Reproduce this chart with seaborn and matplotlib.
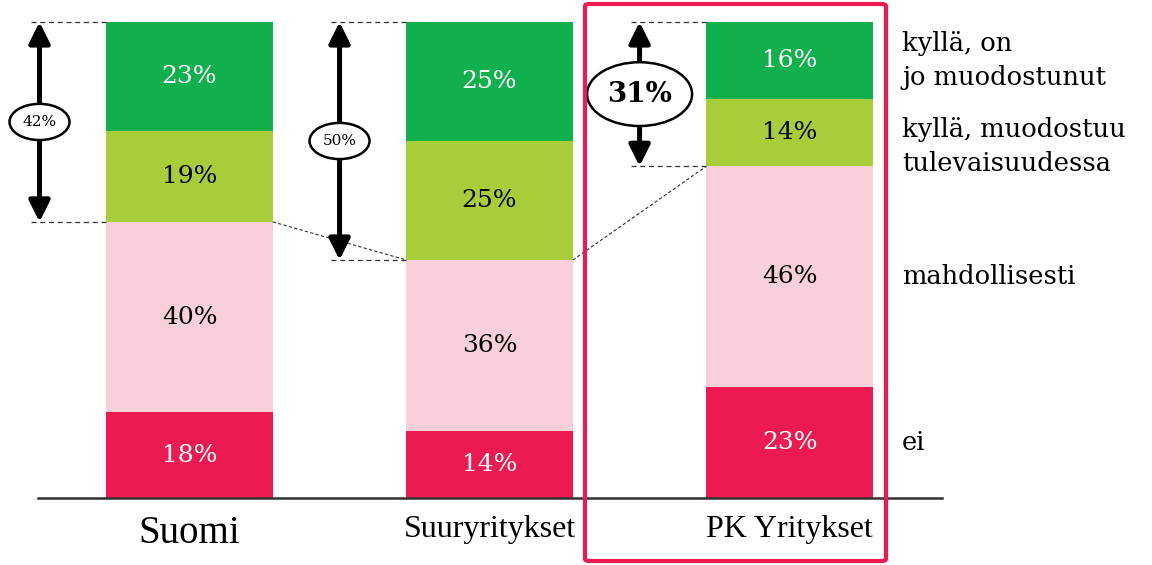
import numpy as np
import pandas as pd
import matplotlib.pyplot as plt
import seaborn as sns
from matplotlib.patches import Ellipse, FancyBboxPatch

# ------------------------------
# 1. Data
# ------------------------------
categories = ["Suomi", "Suuryritykset", "PK Yritykset"]
responses = ["ei", "mahdollisesti", "kyllä, muodostuu\ntulevaisuudessa", "kyllä, on\njo muodostunut"]
ei = [18, 14, 23]
mahdollisesti = [40, 36, 46]
tulevaisuudessa = [19, 25, 14]
on_jo = [23, 25, 16]
yes_totals = ["42%", "50%", "31%"]

colors = ["#ED1A52", "#F9D0DA", "#A7CE39", "#10B04C"]
text_colors = ["white", "black", "black", "white"]

df = pd.DataFrame({
    "category": categories,
    "ei": ei,
    "mahdollisesti": mahdollisesti,
    "tulevaisuudessa": tulevaisuudessa,
    "on_jo": on_jo,
})
layers = ["ei", "mahdollisesti", "tulevaisuudessa", "on_jo"]

# bars are drawn as shares of 100 (PK sums to 99 in the source)
shares = df[layers].div(df[layers].sum(axis=1), axis=0) * 100
tops = shares.cumsum(axis=1)
bottoms = tops - shares

# ------------------------------
# 2. Figure
# ------------------------------
sns.set_style("white")
plt.rcParams["font.family"] = ["DejaVu Serif", "DejaVu Sans"]
plt.rcParams["text.color"] = "black"
plt.rcParams["xtick.color"] = "black"

fig = plt.figure(figsize=(11.52, 5.65), dpi=100)
ax = fig.add_axes([38 / 1152, 67 / 565, 904 / 1152, 476 / 565])

bar_w = 0.555
# stacked bars: draw cumulative totals from the top layer down
for i in reversed(range(len(layers))):
    sns.barplot(x=df["category"], y=tops[layers[i]], color=colors[i], saturation=1,
                width=bar_w, errorbar=None, linewidth=0, ax=ax)

# segment labels
for j in range(len(categories)):
    for i, col in enumerate(layers):
        y = bottoms[col].iloc[j] + shares[col].iloc[j] / 2
        ax.text(j, y, f"{df[col].iloc[j]}%", ha="center", va="center",
                fontsize=18, color=text_colors[i])

# "yes" brackets with arrows and ellipses
ell_size = [(0.2, 7.6, 11, "normal"), (0.2, 7.6, 11, "normal"), (0.35, 13.4, 20, "bold")]
for j in range(len(categories)):
    lo = bottoms["tulevaisuudessa"].iloc[j]
    hi = tops["on_jo"].iloc[j]
    xa = j - 0.5
    for yy in (lo, hi):
        ax.plot([j - 0.527, j - bar_w / 2], [yy, yy], color="#333333", lw=0.9,
                dashes=(4, 3), clip_on=False)
    ax.annotate("", xy=(xa, hi), xytext=(xa, lo),
                arrowprops=dict(arrowstyle="<|-|>,head_length=0.9,head_width=0.45",
                                mutation_scale=14, lw=3.6, color="black",
                                shrinkA=0, shrinkB=0))
    w, h, fs, fw = ell_size[j]
    mid = (lo + hi) / 2
    ax.add_patch(Ellipse((xa, mid), w, h, facecolor="white", edgecolor="black",
                         lw=1.8, zorder=5, clip_on=False))
    ax.text(xa, mid, yes_totals[j], ha="center", va="center", fontsize=fs,
            fontweight=fw, zorder=6)

# connector lines between bars
for j in range(len(categories) - 1):
    y0 = bottoms["tulevaisuudessa"].iloc[j]
    y1 = bottoms["tulevaisuudessa"].iloc[j + 1]
    ax.plot([j + bar_w / 2, j + 1 - bar_w / 2], [y0, y1], color="#333333",
            lw=0.8, dashes=(3, 2))

# response labels on the right, next to the last bar
label_offsets = [0, 0, -3, 0]
last = len(categories) - 1
for i, col in enumerate(layers):
    y = bottoms[col].iloc[last] + shares[col].iloc[last] / 2 + label_offsets[i]
    ax.text(2.375, y, responses[i], ha="left", va="center", fontsize=18.5,
            linespacing=1.45, clip_on=False)

# axes styling
ax.set_xlim(-0.505, 2.508)
ax.set_ylim(0, 100)
ax.set_xlabel("")
ax.set_ylabel("")
ax.set_yticks([])
sns.despine(ax=ax, left=True)
ax.spines["bottom"].set_color("#333333")
ax.spines["bottom"].set_linewidth(1.8)
ax.set_xticks(range(len(categories)))
ax.set_xticklabels(categories, family="Liberation Serif")
ax.tick_params(axis="x", length=0, pad=12)
for lab, fs in zip(ax.get_xticklabels(), [28, 23, 23]):
    lab.set_fontsize(fs)

# highlight frame around PK Yritykset
frame = FancyBboxPatch((585 / 1152, 4 / 565), 301 / 1152, 557 / 565,
                       boxstyle="round,pad=0,rounding_size=0.004",
                       transform=fig.transFigure, facecolor="none",
                       edgecolor="#ED1A52", lw=3)
fig.add_artist(frame)

fig.savefig("out.png", dpi=100)
